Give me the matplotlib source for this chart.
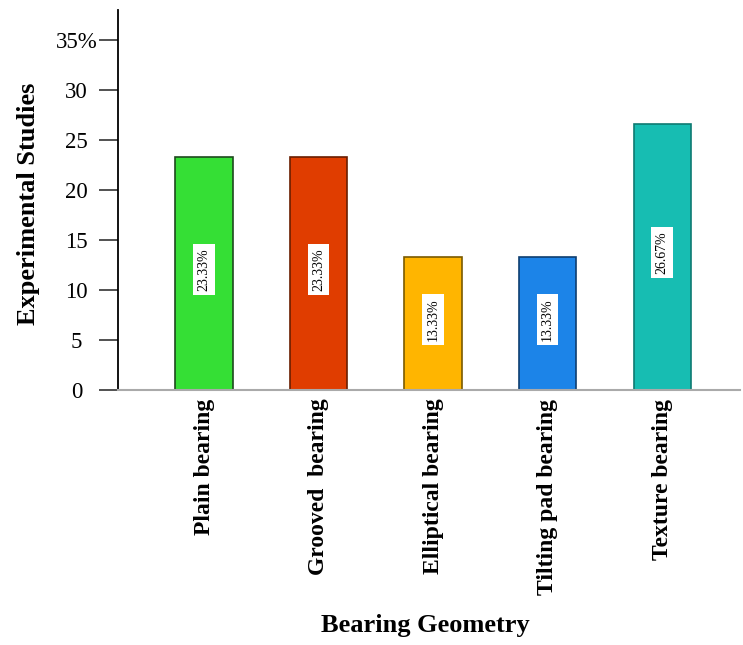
import matplotlib.pyplot as plt

# bearing geometry share of experimental studies
categorias = ['Plain bearing', 'Grooved  bearing', 'Elliptical bearing', 'Tilting pad bearing', 'Texture bearing']
valores = [23.33, 23.33, 13.33, 13.33, 26.67]
rotulos = ['23.33%', '23.33%', '13.33%', '13.33%', '26.67%']
cores = ['#35DF35', '#E03D00', '#FFB500', '#1C84E8', '#17BDB2']
bordas = ['#1E4A1E', '#6A1E00', '#7A5A00', '#0E3E70', '#0E7A72']
y_ticks = [0, 5, 10, 15, 20, 25, 30, 35]
y_ticklabels = ['0', '5', '10', '15', '20', '25', '30', '35%']

plt.rcParams['font.family'] = ['Liberation Serif', 'DejaVu Serif']

fig = plt.figure(figsize=(7.43, 6.45), dpi=100)
ax = fig.add_axes([0.159, 0.395, 0.837, 0.589])

x = list(range(len(categorias)))
ax.bar(x, valores, width=0.5, color=cores, edgecolor=bordas, linewidth=1.2, zorder=2)

# rotulos no meio das barras
for xi, v, r in zip(x, valores, rotulos):
    ax.text(xi, v / 2 + 0.4, r, rotation=90, ha='center', va='center', fontsize=10,
            bbox=dict(facecolor='white', edgecolor='none', pad=3), zorder=3)

ax.set_xlim(-0.75, 4.68)
ax.set_ylim(0, 38)
ax.set_yticks(y_ticks)
ax.set_yticklabels(y_ticklabels, fontsize=16.5, ha='center')
ax.set_xticks(x)
ax.set_xticklabels(categorias, rotation=90, fontsize=17, fontweight='bold')
ax.tick_params(axis='y', length=14, width=1.2, pad=16, color='#333333')
ax.tick_params(axis='x', length=0, pad=6)

ax.spines['top'].set_visible(False)
ax.spines['right'].set_visible(False)
ax.spines['left'].set_linewidth(1.3)
ax.spines['bottom'].set_color('#aaaaaa')
ax.spines['bottom'].set_linewidth(1.5)

ax.set_ylabel('Experimental Studies', fontsize=19, fontweight='bold')
ax.yaxis.set_label_coords(-0.125, 0.49)
fig.text(0.573, 0.012, 'Bearing Geometry', ha='center', va='bottom', fontsize=19, fontweight='bold')

plt.savefig('out.png', dpi=100)
